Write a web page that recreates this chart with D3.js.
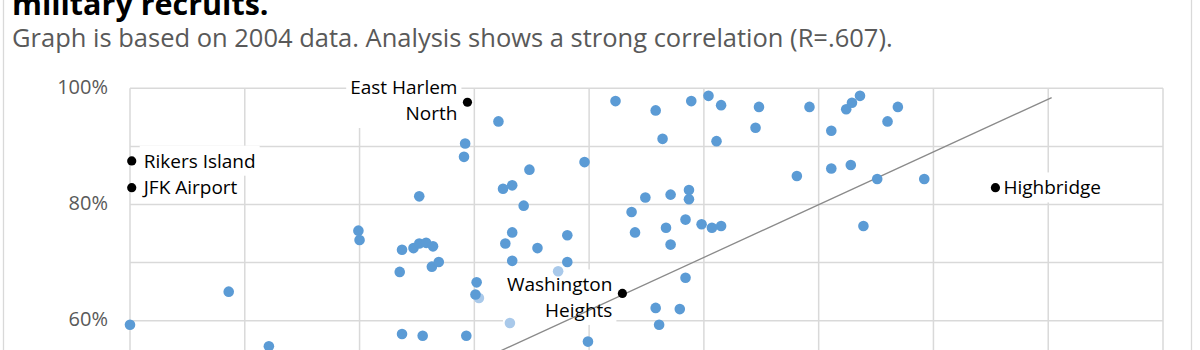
<!DOCTYPE html>
<html><head><meta charset="utf-8">
<script src="https://cdn.jsdelivr.net/npm/d3@7"></script>
<style>html,body{margin:0;padding:0;background:#fff;overflow:hidden}</style>
</head><body>
<svg id="chart" width="1200" height="350"></svg>
<script>
// ---------- data ----------
const titleText = "military recruits.";
const subtitleText = "Graph is based on 2004 data. Analysis shows a strong correlation (R=.607).";
const xGridValues = [0, 10, 20, 30, 40, 50, 60, 70, 80, 90];
const yGridValues = [20, 30, 40, 50, 60, 70, 80, 90, 100];
const yTickLabels = [20, 40, 60, 80, 100];

const recruitX = [0, 8.6, 12.1, 19.9, 20.0, 25.2, 23.7, 24.7, 25.2, 25.8, 26.4, 23.5, 26.3, 26.9,
  29.2, 29.1, 30.2, 30.1, 23.7, 25.5, 29.3, 32.1, 34.8, 32.5, 33.3, 34.3, 39.6, 42.3,
  33.3, 32.7, 35.5, 38.1, 33.3, 38.1, 39.9, 45.8, 46.4, 48.9, 50.4, 51.5, 51.1, 54.8,
  54.5, 58.1, 44.9, 47.1, 48.7, 48.7, 43.7, 44.0, 46.7, 48.4, 49.8, 50.7, 51.5, 47.1,
  48.4, 45.8, 47.9, 46.1, 59.2, 62.4, 62.9, 63.6, 66.9, 66.0, 61.1, 61.1, 62.8, 65.1,
  69.2, 63.9];
const recruitY = [59.3, 65.0, 55.6, 75.5, 73.9, 81.4, 72.2, 72.5, 73.3, 73.4, 72.8, 68.4, 69.3, 70.1,
  90.5, 88.2, 66.6, 64.5, 57.7, 57.4, 57.4, 94.3, 86.0, 82.7, 83.3, 79.8, 87.3, 97.8,
  75.2, 73.3, 72.5, 74.7, 70.3, 70.1, 56.4, 96.2, 91.3, 97.8, 98.7, 97.1, 90.9, 96.8,
  93.2, 84.9, 81.2, 81.7, 82.5, 80.9, 78.7, 75.2, 76.0, 77.4, 76.6, 76.0, 76.3, 73.1,
  67.4, 62.2, 62.0, 59.3, 96.8, 96.4, 97.5, 98.7, 96.8, 94.3, 92.7, 86.2, 86.8, 84.4,
  84.4, 76.3];
const fadedX = [30.4, 37.3, 33.1];
const fadedY = [63.9, 68.5, 59.6];

const labelNames = [["Rikers Island"], ["JFK Airport"], ["East Harlem", "North"], ["Washington", "Heights"], ["Highbridge"]];
const labelX = [0.15, 0.15, 29.4, 42.9, 75.4];
const labelY = [87.5, 82.9, 97.6, 64.7, 82.9];

const trendX = [0, 80.3];
const trendY = [25.5, 98.4];

// ---------- layout / style ----------
const FONT = "'Open Sans', sans-serif";
const labelSide = ["right", "right", "left", "left", "right"];
const labelGap = [12, 12, 10, 10, 8];
const labelShift = [0, 0, -1.8, 4, 0];
const plot = { left: 130, right: 1163, top: 88.3, bottom: 88.3 + 58.1 * 8 };

const svg = d3.select("#chart");
const x = d3.scaleLinear().domain([0, 90]).range([plot.left, plot.right]);
const y = d3.scaleLinear().domain([20, 100]).range([plot.bottom, plot.top]);

// chart border
svg.append("rect").attr("x", 3.5).attr("y", -20).attr("width", 1188).attr("height", 400)
  .attr("fill", "#fff").attr("stroke", "#d9d9d9").attr("stroke-width", 1.3);

// title + subtitle
svg.append("text").attr("x", 12).attr("y", 14.5).text(titleText)
  .attr("font-family", FONT).attr("font-weight", 700).attr("font-size", 30.5).attr("fill", "#000");
svg.append("text").attr("x", 12).attr("y", 46.5).text(subtitleText)
  .attr("font-family", FONT).attr("font-size", 25.5).attr("fill", "#595959");

// gridlines
const grid = svg.append("g");
grid.selectAll("line.h").data(yGridValues).join("line").attr("class", "h")
  .attr("x1", plot.left).attr("x2", plot.right)
  .attr("y1", d => y(d)).attr("y2", d => y(d))
  .attr("stroke", "#d9d9d9").attr("stroke-width", 1.5);
grid.selectAll("line.v").data(xGridValues).join("line").attr("class", "v")
  .attr("x1", d => x(d)).attr("x2", d => x(d))
  .attr("y1", plot.top).attr("y2", plot.bottom)
  .attr("stroke", "#d9d9d9").attr("stroke-width", 1.5);

// y axis labels
const yAxis = d3.axisLeft(y).tickValues(yTickLabels).tickFormat(d => d + "%").tickSize(0).tickPadding(22);
const ya = svg.append("g").attr("transform", `translate(${plot.left},-1.5)`).call(yAxis);
ya.select(".domain").remove();
ya.selectAll("text").attr("font-family", FONT).attr("font-size", 20).attr("fill", "#595959");

// x axis (lies below the visible window, as in the reference crop)
const xAxis = d3.axisBottom(x).tickValues(xGridValues).tickSize(0).tickPadding(10);
const xa = svg.append("g").attr("transform", `translate(0,${plot.bottom})`).call(xAxis);
xa.select(".domain").remove();
xa.selectAll("text").attr("font-family", FONT).attr("font-size", 20).attr("fill", "#595959");

// labels (background boxes first)
const labelData = labelNames.map((lines, i) => ({ lines, x: labelX[i], y: labelY[i], side: labelSide[i], gap: labelGap[i], shift: labelShift[i] }));
const boxLayer = svg.append("g");
const trendLayer = svg.append("g");
const pointLayer = svg.append("g");
const textLayer = svg.append("g");

const LFS = 19, LH = 25.5;
labelData.forEach(d => {
  const px = x(d.x), py = y(d.y);
  const n = d.lines.length;
  const tx = d.side === "right" ? px + d.gap : px - d.gap;
  const anchor = d.side === "right" ? "start" : "end";
  const t = textLayer.append("text").attr("font-family", FONT).attr("font-size", LFS)
    .attr("fill", "#000").attr("text-anchor", anchor);
  d.lines.forEach((line, k) => {
    const cy = py + d.shift + (k - (n - 1) / 2) * LH;
    t.append("tspan").attr("x", tx).attr("y", cy + LFS * 0.357).text(line);
  });
  const bb = t.node().getBBox();
  boxLayer.append("rect").attr("x", bb.x - 4).attr("y", bb.y - 2)
    .attr("width", bb.width + 8).attr("height", bb.height + 4).attr("fill", "#fff");
});

// trend line
trendLayer.append("path")
  .datum(trendX.map((v, i) => [v, trendY[i]]))
  .attr("d", d3.line().x(d => x(d[0])).y(d => y(d[1])))
  .attr("fill", "none").attr("stroke", "#8a8a8a").attr("stroke-width", 1.3);

// points
pointLayer.selectAll("circle.f").data(fadedX.map((v, i) => [v, fadedY[i]])).join("circle").attr("class", "f")
  .attr("cx", d => x(d[0])).attr("cy", d => y(d[1])).attr("r", 5.3).attr("fill", "#a9c9ea");
pointLayer.selectAll("circle.b").data(recruitX.map((v, i) => [v, recruitY[i]])).join("circle").attr("class", "b")
  .attr("cx", d => x(d[0])).attr("cy", d => y(d[1])).attr("r", 5.3).attr("fill", "#5b9bd5");
pointLayer.selectAll("circle.k").data(labelData).join("circle").attr("class", "k")
  .attr("cx", d => x(d.x)).attr("cy", d => y(d.y)).attr("r", 4.6).attr("fill", "#000");
</script>
</body></html>
